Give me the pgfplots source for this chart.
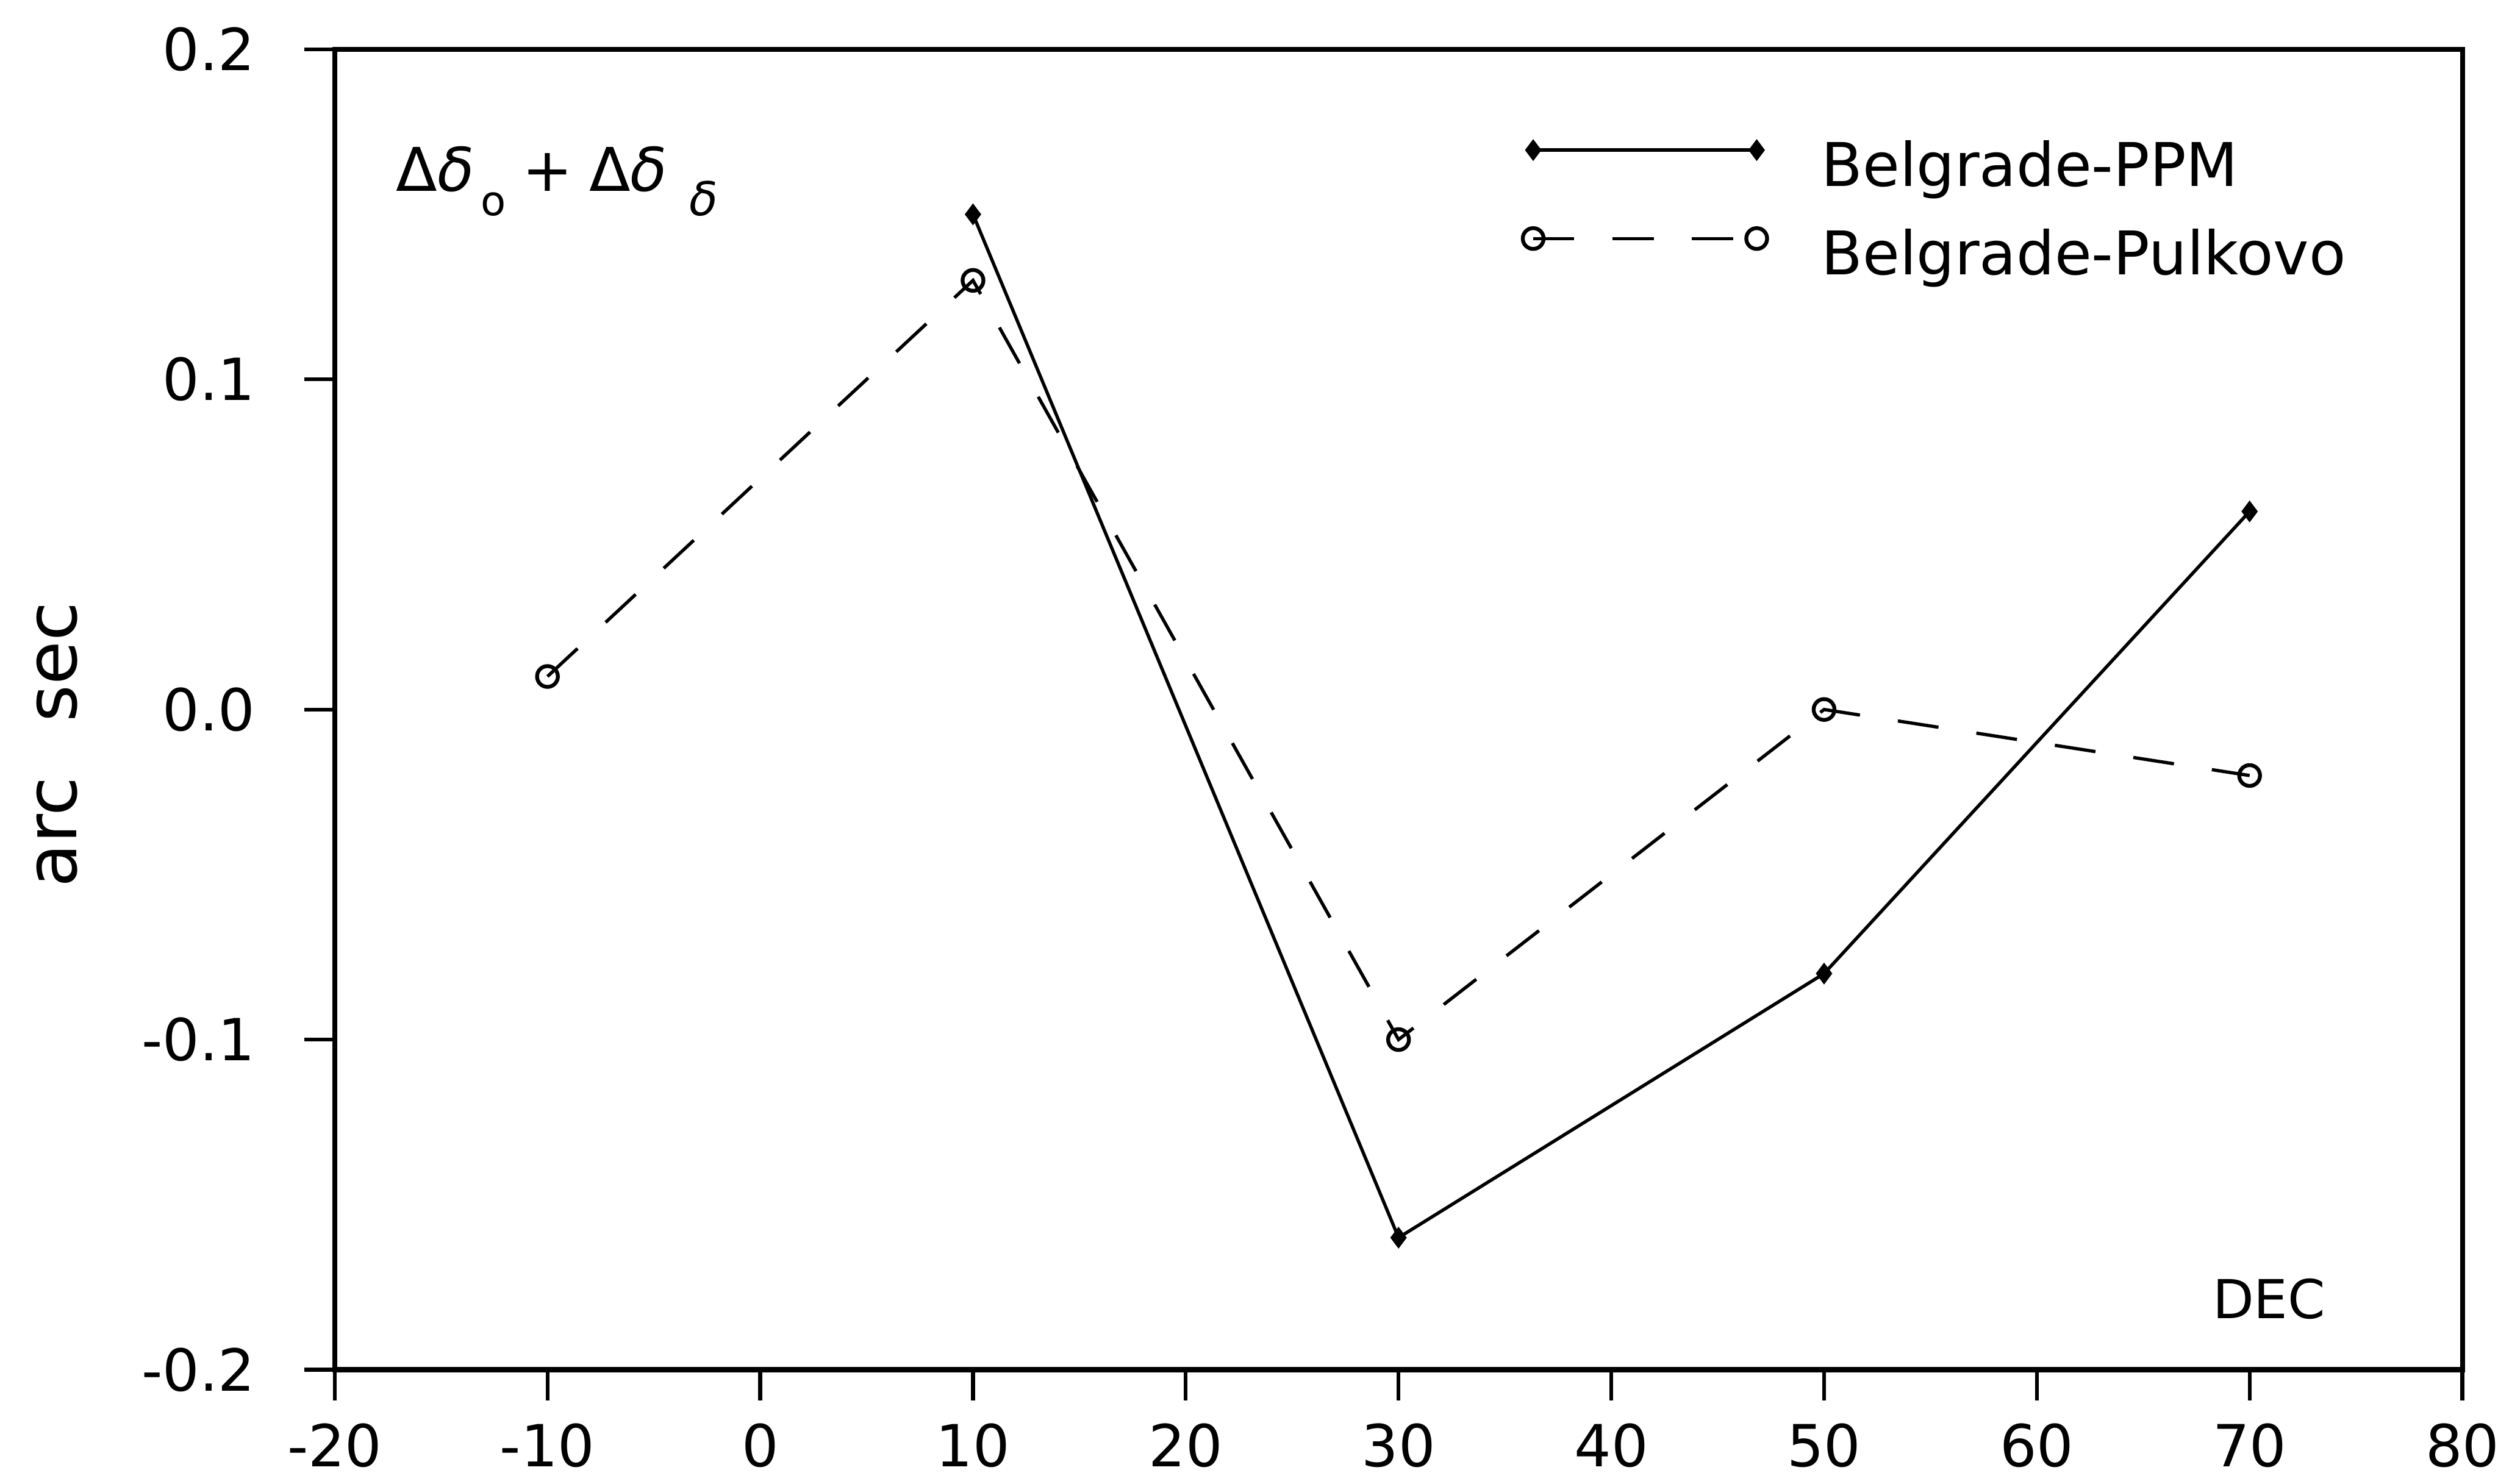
\documentclass[border=0pt]{standalone}
\usepackage{fontspec}
\setmainfont{DejaVu Sans}
\usepackage{pgfplots}
\pgfplotsset{compat=1.18}
\pgfplotstableread{
x y
10 0.15
30 -0.16
50 -0.08
70 0.06
}\ppm
\pgfplotstableread{
x y
-10 0.01
10 0.13
30 -0.10
50 0.00
70 -0.02
}\pulkovo
\begin{document}
\fontsize{10.6}{12.7}\selectfont
\begin{tikzpicture}
\begin{axis}[
  at={(0pt,0pt)}, anchor=south west,
  scale only axis, clip mode=individual,
  width=388.4pt, height=241.1pt,
  xmin=-20, xmax=80, ymin=-0.2, ymax=0.2,
  xtick={-20,-10,0,10,20,30,40,50,60,70,80},
  ytick={-0.2,-0.1,0,0.1,0.2},
  tick pos=left, tick align=outside, major tick length=5.6pt,
  axis line style={line width=0.9pt},
  every tick/.style={black, line width=0.7pt},
  /pgf/number format/assume math mode=true,
  yticklabel style={/pgf/number format/fixed, /pgf/number format/fixed zerofill, /pgf/number format/precision=1, xshift=-5.2pt},
  xticklabel style={yshift=-0.5pt},
  legend cell align=left,
  legend style={draw=none, fill=none, inner sep=0pt, outer sep=0pt,
    at={(axis description cs:0.5584,0.9299)}, anchor=north west,
    row sep=5.1pt, column sep=9.9pt,
    font=\fontsize{11}{13}\selectfont,
    nodes={inner sep=0pt, text height=8pt, text depth=2.5pt}},
  legend image code/.code={\draw[#1] plot coordinates {(0pt,3.9pt) (40.8pt,3.9pt)};},
]
\addplot[black, line width=0.6pt, mark=diamond*, mark size=1.5pt, mark options={solid}] table[x=x,y=y] {\ppm};
\addlegendentry{Belgrade-PPM}
\addplot[black, line width=0.6pt, dash pattern=on 7.5pt off 7pt, mark=o, mark size=1.9pt, mark options={solid, line width=0.7pt}] table[x=x,y=y] {\pulkovo};
\addlegendentry{Belgrade-Pulkovo}
\path (rel axis cs:0,1) ++(11pt,-25.9pt) node[anchor=base west, inner sep=0pt]
  {\fontsize{11}{13}\selectfont Δ\textit{δ}\hspace{1.2pt}\raisebox{-4.4pt}{\fontsize{7.5}{9}\selectfont o}\hspace{3pt}+\hspace{3pt}Δ\textit{δ}\hspace{4pt}\raisebox{-4.4pt}{\fontsize{8.5}{9}\selectfont\textit{δ}}};
\path (rel axis cs:0,0) ++(363.6pt,9.3pt) node[anchor=base east, inner sep=0pt] {\fontsize{9.8}{11}\selectfont DEC};
\path (rel axis cs:0,0.4733) ++(-47.1pt,0pt) node[rotate=90, anchor=base, inner sep=0pt] {\fontsize{13}{15}\selectfont arc\hspace{10pt}sec};
\end{axis}
\pgfresetboundingbox
\path[use as bounding box] (-61.1pt,-20.8pt) rectangle (394.9pt,250.1pt);
\end{tikzpicture}
\end{document}
